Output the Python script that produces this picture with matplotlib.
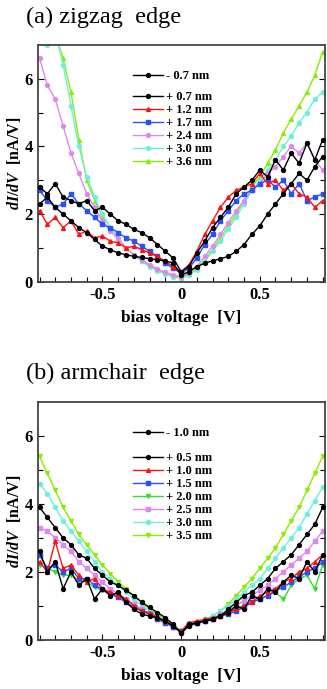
import matplotlib
matplotlib.use("Agg")
import matplotlib.pyplot as plt
import numpy as np

plt.rcParams['font.family'] = ['Liberation Serif', 'DejaVu Serif']
plt.rcParams['mathtext.fontset'] = 'custom'
plt.rcParams['mathtext.it'] = 'Liberation Serif:italic:bold'
plt.rcParams['mathtext.rm'] = 'Liberation Serif:bold'

# bias voltage grid (V)
bias = np.round(np.arange(-0.9, 0.901, 0.05), 2)

# (a) zigzag edge, dI/dV (nA/V)
zz_labels = ["- 0.7 nm", "+ 0.7 nm", "+ 1.2 nm", "+ 1.7 nm", "+ 2.4 nm", "+ 3.0 nm", "+ 3.6 nm"]
zz_m07 = [2.3, 2.5, 2.2, 2.0, 1.8, 1.6, 1.45, 1.25, 1.05, 0.95, 0.85, 0.8, 0.75, 0.72, 0.68, 0.65, 0.62, 0.55,
          0.2, 0.3, 0.45, 0.55, 0.62, 0.68, 0.75, 0.9, 1.1, 1.4, 1.65, 2.0, 2.3, 2.6, 2.9, 3.2, 3.0, 3.4, 3.7]
zz_p07 = [2.8, 2.6, 2.9, 2.5, 2.4, 2.3, 2.4, 2.1, 2.2, 2.0, 1.8, 1.7, 1.55, 1.45, 1.3, 1.1, 0.9, 0.7,
          0.3, 0.45, 0.85, 1.2, 1.6, 1.9, 2.2, 2.6, 2.8, 3.0, 3.3, 3.1, 3.6, 3.3, 3.8, 3.5, 4.1, 3.6, 4.2]
zz_12 = [2.1, 1.7, 1.9, 1.6, 1.8, 1.4, 1.5, 1.3, 1.35, 1.2, 1.15, 1.0, 1.05, 0.95, 0.85, 0.75, 0.6, 0.45,
         0.3, 0.5, 0.9, 1.4, 1.8, 2.2, 2.5, 2.7, 2.8, 2.9, 3.2, 2.9, 3.0, 2.7, 2.9, 2.6, 2.5, 2.2, 2.4]
zz_17 = [2.7, 2.4, 2.2, 2.3, 2.6, 2.3, 2.1, 1.9, 1.7, 1.6, 1.45, 1.3, 1.2, 1.05, 0.9, 0.75, 0.55, 0.4,
         0.25, 0.4, 0.7, 1.1, 1.4, 1.8, 2.1, 2.4, 2.6, 2.7, 2.9, 3.0, 2.8, 3.0, 2.6, 2.9, 2.4, 2.5, 2.6]
zz_24 = [6.6, 5.8, 5.4, 4.6, 3.8, 3.2, 2.6, 2.2, 1.8, 1.5, 1.25, 1.0, 0.8, 0.65, 0.5, 0.38, 0.28, 0.2,
         0.15, 0.25, 0.45, 0.75, 1.05, 1.4, 1.75, 2.1, 2.4, 2.7, 2.9, 3.2, 3.4, 3.7, 4.0, 3.8, 4.1, 3.6, 3.3]
zz_30 = [7.3, 7.0, 7.4, 6.4, 5.2, 4.0, 3.1, 2.5, 2.0, 1.6, 1.3, 1.0, 0.78, 0.6, 0.45, 0.32, 0.22, 0.15,
         0.1, 0.2, 0.35, 0.6, 0.9, 1.2, 1.55, 1.9, 2.3, 2.7, 3.0, 3.3, 3.6, 4.0, 4.3, 4.7, 5.0, 5.4, 5.6]
zz_36 = [7.5, 7.5, 7.3, 6.6, 5.6, 4.2, 3.0, 2.4, 1.95, 1.6, 1.3, 1.0, 0.8, 0.62, 0.48, 0.35, 0.25, 0.18,
         0.12, 0.22, 0.4, 0.65, 0.95, 1.3, 1.65, 2.0, 2.4, 2.8, 3.1, 3.5, 3.9, 4.4, 4.8, 5.2, 5.6, 6.1, 6.8]

# (b) armchair edge, dI/dV (nA/V)
ac_labels = ["- 1.0 nm", "+ 0.5 nm", "+ 1.0 nm", "+ 1.5 nm", "+ 2.0 nm", "+ 2.5 nm", "+ 3.0 nm", "+ 3.5 nm"]
ac_m10 = [2.6, 2.0, 2.3, 1.5, 2.0, 1.6, 1.8, 1.2, 1.5, 1.3, 1.4, 1.1, 0.9, 0.75, 0.7, 0.65, 0.55, 0.4,
          0.2, 0.45, 0.5, 0.55, 0.6, 0.7, 0.8, 1.0, 0.9, 1.3, 1.2, 1.5, 1.4, 1.7, 1.9, 1.8, 2.3, 2.0, 2.5]
ac_p05 = [3.9, 3.6, 3.3, 3.0, 2.8, 2.5, 2.4, 2.1, 1.9, 1.7, 1.6, 1.45, 1.3, 1.1, 0.95, 0.8, 0.65, 0.45,
          0.2, 0.4, 0.5, 0.55, 0.6, 0.7, 0.9, 1.1, 1.3, 1.4, 1.6, 1.8, 2.1, 2.3, 2.5, 2.8, 3.1, 3.4, 3.9]
ac_10 = [2.3, 2.0, 2.9, 2.1, 2.2, 1.9, 1.7, 1.8, 1.5, 1.4, 1.3, 1.2, 1.0, 0.85, 0.8, 0.65, 0.55, 0.4,
         0.25, 0.5, 0.55, 0.6, 0.65, 0.7, 0.8, 0.9, 1.0, 1.1, 1.3, 1.4, 1.5, 1.7, 1.8, 2.0, 2.1, 2.3, 2.5]
ac_15 = [2.5, 2.1, 2.2, 2.0, 2.1, 1.8, 1.8, 1.6, 1.5, 1.35, 1.25, 1.1, 0.95, 0.85, 0.75, 0.6, 0.5, 0.38,
         0.25, 0.45, 0.5, 0.55, 0.6, 0.7, 0.75, 0.85, 0.95, 1.1, 1.2, 1.3, 1.45, 1.55, 1.7, 1.85, 2.0, 2.1, 2.3]
ac_20 = [2.2, 2.1, 2.0, 1.9, 1.9, 1.75, 1.7, 1.55, 1.45, 1.35, 1.25, 1.1, 0.95, 0.85, 0.75, 0.6, 0.5, 0.38,
         0.25, 0.4, 0.5, 0.55, 0.6, 0.7, 0.8, 0.9, 1.0, 1.1, 1.2, 1.3, 1.4, 1.2, 1.6, 1.8, 1.9, 1.5, 2.2]
ac_25 = [3.3, 3.2, 3.0, 2.8, 2.6, 2.3, 2.1, 1.9, 1.7, 1.5, 1.35, 1.2, 1.05, 0.9, 0.75, 0.62, 0.5, 0.38,
         0.25, 0.45, 0.5, 0.55, 0.62, 0.75, 0.85, 1.0, 1.15, 1.3, 1.45, 1.6, 1.8, 2.0, 2.2, 2.4, 2.6, 2.9, 3.2]
ac_30 = [4.6, 4.3, 3.9, 3.5, 3.2, 2.9, 2.6, 2.3, 2.0, 1.8, 1.6, 1.4, 1.2, 1.0, 0.85, 0.7, 0.55, 0.4,
         0.25, 0.45, 0.5, 0.6, 0.7, 0.85, 1.0, 1.2, 1.4, 1.6, 1.8, 2.1, 2.4, 2.7, 3.0, 3.3, 3.7, 4.1, 4.5]
ac_35 = [5.4, 4.9, 4.4, 3.9, 3.5, 3.1, 2.8, 2.5, 2.2, 1.95, 1.7, 1.5, 1.3, 1.1, 0.9, 0.75, 0.6, 0.42,
         0.25, 0.45, 0.5, 0.6, 0.7, 0.85, 1.05, 1.3, 1.55, 1.8, 2.1, 2.4, 2.7, 3.1, 3.5, 3.9, 4.4, 4.9, 5.4]

zz_series = [zz_m07, zz_p07, zz_12, zz_17, zz_24, zz_30, zz_36]
zz_colors = ['black', 'black', '#ff1010', '#2850ff', '#dd88ee', '#6cf0dc', '#88ee00']
zz_markers = ['o', 'o', '^', 's', 'o', 'o', '^']

ac_series = [ac_m10, ac_p05, ac_10, ac_15, ac_20, ac_25, ac_30, ac_35]
ac_colors = ['black', 'black', '#ff1010', '#2850ff', '#33dd33', '#dd88ee', '#6cf0dc', '#88ee00']
ac_markers = ['o', 'o', '^', 's', 'v', 's', 'o', 'v']


def draw_panel(ax, series, colors, markers, labels, leg_y):
    handles = [None] * len(series)
    # colored curves underneath, black ones on top
    for i in reversed(range(len(series))):
        z = 3 if colors[i] == 'black' else 2
        handles[i], = ax.plot(bias, series[i], color=colors[i], marker=markers[i], ms=2.8,
                              lw=1.0, label=labels[i], zorder=z)
    ax.set_xlim(-0.91, 0.915)
    ax.set_ylim(0, 7)
    ax.set_xticks([-0.5, 0, 0.5])
    ax.set_xticklabels(['-0.5', '0', '0.5'])
    ax.set_xticks(np.arange(-0.9, 0.91, 0.1), minor=True)
    ax.set_yticks([0, 2, 4, 6])
    ax.set_yticks([1, 3, 5], minor=True)
    ax.tick_params(which='both', direction='in', left=True, right=True, top=False, labelsize=12)
    ax.tick_params(which='major', length=4.5, width=0.8)
    ax.tick_params(which='minor', length=3.5, width=0.8)
    for lab in ax.get_xticklabels() + ax.get_yticklabels():
        lab.set_fontweight('bold')
    for s in ax.spines.values():
        s.set_color('#444444')
        s.set_linewidth(1.3)
    ax.set_xlabel('bias voltage  [V]', fontsize=12.5, fontweight='bold', labelpad=5)
    ax.set_ylabel('$dI/dV$  [nA/V]', fontsize=11.5, fontweight='bold', labelpad=1)
    kw = dict(frameon=False, prop={'weight': 'bold', 'size': 9}, handlelength=2.4,
              handletextpad=0.3, labelspacing=0.08, borderpad=0, borderaxespad=0, loc='upper left')
    leg1 = ax.legend([handles[0]], [labels[0]], bbox_to_anchor=(0.33, leg_y[0]), **kw)
    ax.add_artist(leg1)
    ax.legend(handles[1:], labels[1:], bbox_to_anchor=(0.33, leg_y[1]), **kw)


fig = plt.figure(figsize=(3.27, 6.89), dpi=100)
ax_a = fig.add_axes([0.116, 0.591, 0.878, 0.344])
ax_b = fig.add_axes([0.116, 0.0715, 0.878, 0.345])

draw_panel(ax_a, zz_series, zz_colors, zz_markers, zz_labels, (0.892, 0.803))
draw_panel(ax_b, ac_series, ac_colors, ac_markers, ac_labels, (0.893, 0.789))

fig.text(0.08, 0.975, '(a) zigzag  edge', fontsize=17.5, va='center', ha='left')
fig.text(0.08, 0.458, '(b) armchair  edge', fontsize=17.5, va='center', ha='left')

fig.savefig('out.png', dpi=100)
